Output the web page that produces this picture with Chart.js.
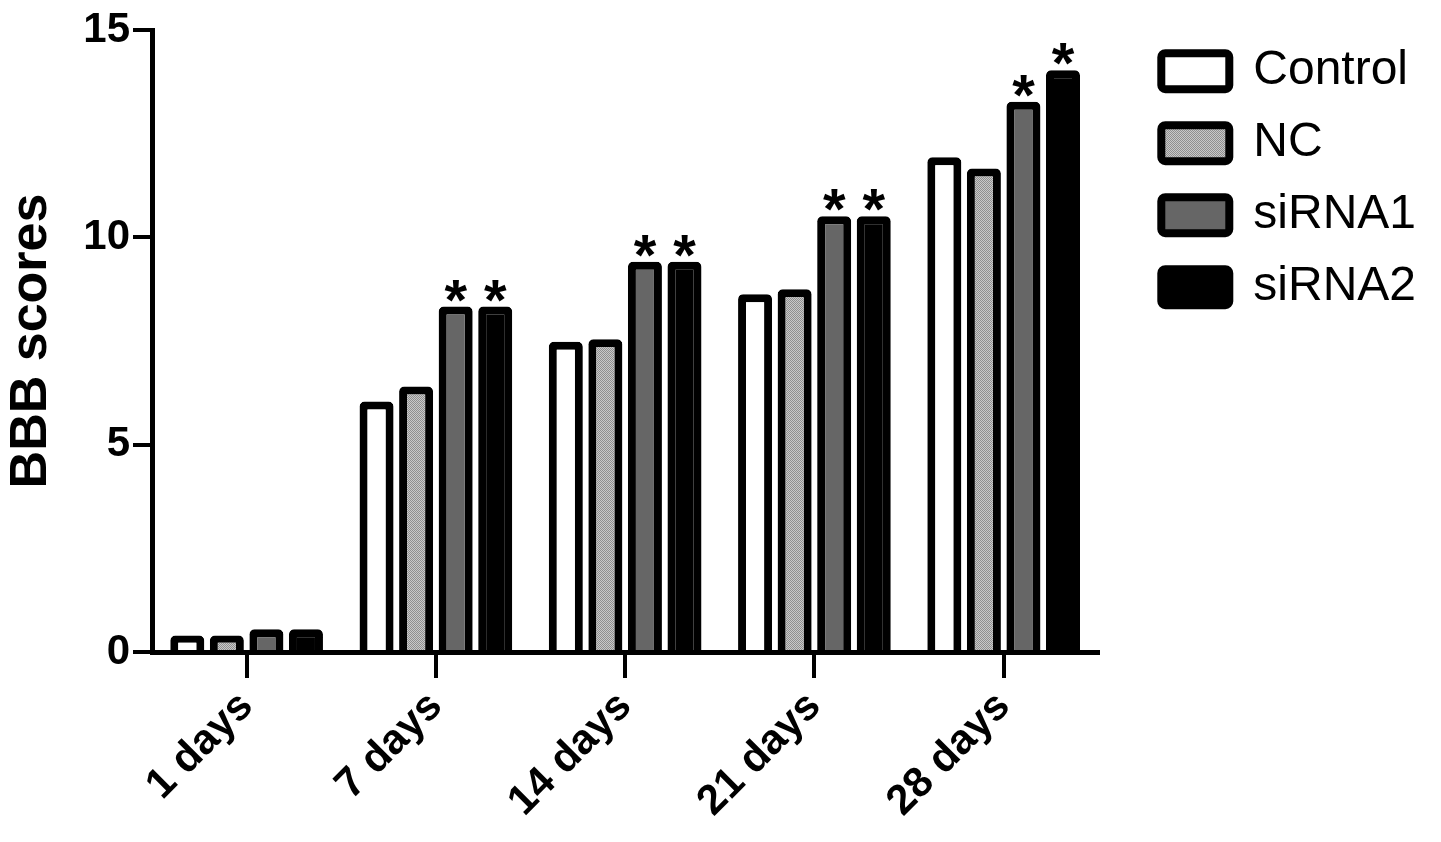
<!DOCTYPE html>
<html>
<head>
<meta charset="utf-8">
<script src="https://cdn.jsdelivr.net/npm/chart.js@4.4.1/dist/chart.umd.min.js"></script>
<style>
  html, body { margin: 0; padding: 0; background: #fff; }
  #wrap { width: 1441px; height: 842px; }
</style>
</head>
<body>
<div id="wrap"><canvas id="bbbChart" width="1441" height="842"></canvas></div>
<script>
const timePoints = ['1 days', '7 days', '14 days', '21 days', '28 days'];
const controlScores = [0.4, 6.04, 7.48, 8.63, 11.93];
const ncScores = [0.4, 6.4, 7.54, 8.75, 11.66];
const sirna1Scores = [0.55, 8.33, 9.41, 10.51, 13.27];
const sirna2Scores = [0.55, 8.33, 9.41, 10.51, 14.03];
// which bars carry a significance star
const sirna1Stars = [false, true, true, true, true];
const sirna2Stars = [false, true, true, true, true];
const yTicks = [0, 5, 10, 15];

const FONT = '"Liberation Sans", Arial, Helvetica, sans-serif';

// speckled light grey fill used for the NC bars
function speckle() {
  const c = document.createElement('canvas');
  c.width = 2; c.height = 2;
  const g = c.getContext('2d');
  g.fillStyle = '#c9c9c9';
  g.fillRect(0, 0, 2, 2);
  g.fillStyle = '#8f8f8f';
  g.fillRect(0, 0, 1, 1);
  g.fillRect(1, 1, 1, 1);
  return g.createPattern(c, 'repeat');
}

const starPlugin = {
  id: 'stars',
  afterDatasetsDraw(chart) {
    const ctx = chart.ctx;
    const marks = { 2: sirna1Stars, 3: sirna2Stars };
    ctx.save();
    ctx.fillStyle = '#000';
    ctx.font = 'bold 58px ' + FONT;
    ctx.textAlign = 'center';
    ctx.textBaseline = 'alphabetic';
    Object.keys(marks).forEach(di => {
      const meta = chart.getDatasetMeta(+di);
      meta.data.forEach((bar, i) => {
        if (marks[di][i]) ctx.fillText('*', bar.x, bar.y + 13);
      });
    });
    ctx.restore();
  }
};

Chart.defaults.color = '#000';
Chart.defaults.font.family = FONT;

const barStyle = {
  borderColor: '#000',
  borderWidth: 8,
  borderRadius: 5,
  categoryPercentage: 0.836,
  barPercentage: 0.86
};

new Chart(document.getElementById('bbbChart'), {
  type: 'bar',
  data: {
    labels: timePoints,
    datasets: [
      { label: 'Control', data: controlScores, backgroundColor: '#ffffff', ...barStyle },
      { label: 'NC', data: ncScores, backgroundColor: speckle(), ...barStyle },
      { label: 'siRNA1', data: sirna1Scores, backgroundColor: '#666666', ...barStyle },
      { label: 'siRNA2', data: sirna2Scores, backgroundColor: '#000000', ...barStyle }
    ]
  },
  options: {
    responsive: false,
    animation: false,
    layout: { padding: { top: 30, right: 15, left: 0, bottom: 0 } },
    plugins: {
      tooltip: { enabled: false },
      legend: {
        position: 'right',
        align: 'start',
        maxWidth: 320,
        // empty title with negative padding just nudges the rows up a little
        title: { display: true, text: '', font: { size: 1 }, padding: { top: -4, bottom: -4 } },
        labels: {
          boxWidth: 68,
          boxHeight: 36,
          padding: 24,
          useBorderRadius: true,
          borderRadius: 4,
          font: { size: 48, family: FONT },
          color: '#000'
        }
      }
    },
    scales: {
      x: {
        grid: { display: true, drawOnChartArea: false, offset: false, tickLength: 26, lineWidth: 4, color: '#000' },
        border: { display: true, width: 5, color: '#000' },
        ticks: { font: { size: 42, weight: 'bold' }, maxRotation: 45, minRotation: 45, padding: 4, color: '#000' },
        afterFit(scale) { scale.height = 190; }
      },
      y: {
        min: 0,
        max: 15,
        afterBuildTicks(scale) { scale.ticks = yTicks.map(v => ({ value: v })); },
        grid: { display: true, drawOnChartArea: false, tickLength: 19, lineWidth: 4, color: '#000' },
        border: { display: true, width: 5, color: '#000' },
        ticks: { font: { size: 42, weight: 'bold' }, padding: 3, color: '#000' },
        title: { display: true, text: 'BBB scores', font: { size: 52, weight: 'bold' }, padding: 0, color: '#000' },
        afterFit(scale) { scale.width = 152; }
      },
      gap: {
        type: 'linear',
        position: 'right',
        grid: { display: false },
        border: { display: false },
        ticks: { display: false },
        afterFit(scale) { scale.width = 39; }
      }
    }
  },
  plugins: [starPlugin]
});
</script>
</body>
</html>
